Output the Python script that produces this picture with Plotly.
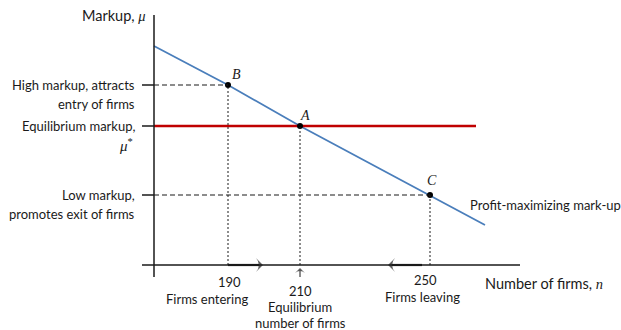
import plotly.graph_objects as go

# ---- data (schematic units) ----
curve_x = [0, 7.4, 14.6, 27.6, 33.1]
curve_y = [21.9, 18.0, 13.9, 7.0, 4.0]
eq_x = [0, 32.2]
eq_y = [13.9, 13.9]
point_names = ["B", "A", "C"]
point_x = [7.4, 14.6, 27.6]
point_y = [18.0, 13.9, 7.0]
n_labels = ["190", "210", "250"]
n_notes = ["Firms entering", "Equilibrium<br>number of firms", "Firms leaving"]
mu_labels = ["High markup, attracts<br>entry of firms",
             "Equilibrium markup,<br><i>μ</i><sup>*</sup>",
             "Low markup,<br>promotes exit of firms"]
# adjustment arrows along the n axis (start, end)
entry_arrow = [7.4, 10.9]
exit_arrow = [26.8, 23.4]
eq_arrow_y = [-1.2, -0.3]

# view window (whole canvas) and axis extents
VX0, VX1 = -15.4, 46.7
VY0, VY1 = -6.5, 26.5
X0, X1 = -1.2, 36.6
Y0, Y1 = -1.2, 25.0
INK = "#1a1a1a"
SANS = "Lato, 'Open Sans', sans-serif"
SERIF = "'Liberation Serif', 'DejaVu Serif', serif"
FS = 13

fig = go.Figure()
fig.add_trace(go.Scatter(x=curve_x, y=curve_y, mode="lines",
                         line=dict(color="#4a7ebb", width=1.8), hoverinfo="skip"))
fig.add_trace(go.Scatter(x=eq_x, y=eq_y, mode="lines",
                         line=dict(color="#c00000", width=2.5), hoverinfo="skip"))

shapes = []
shapes.append(dict(type="line", x0=0, x1=0, y0=Y0, y1=Y1, line=dict(color=INK, width=1.5)))
shapes.append(dict(type="line", x0=X0, x1=X1, y0=0, y1=0, line=dict(color=INK, width=1.5)))
for i, (px, py) in enumerate(zip(point_x, point_y)):
    shapes.append(dict(type="line", x0=px, x1=px, y0=0, y1=py,
                       line=dict(color=INK, width=1, dash="2px,2px")))
    shapes.append(dict(type="line", x0=X0, x1=0, y0=py, y1=py, line=dict(color=INK, width=1.5)))
    if point_names[i] != "A":
        shapes.append(dict(type="line", x0=0, x1=px, y0=py, y1=py,
                           line=dict(color=INK, width=1.2, dash="5px,3px")))

# arrows as line+marker traces
for ax_x, ax_y, w, sz in [(entry_arrow, [0, 0], 2.2, 10),
                          (exit_arrow, [0, 0], 2.2, 10),
                          ([point_x[1], point_x[1]], eq_arrow_y, 1.0, 7)]:
    fig.add_trace(go.Scatter(x=ax_x, y=ax_y, mode="lines+markers", hoverinfo="skip",
                             line=dict(color=INK, width=w),
                             marker=dict(symbol="arrow-wide", angleref="previous",
                                         size=[0, sz], color=INK, line=dict(width=0))))

fig.add_trace(go.Scatter(x=point_x, y=point_y, mode="markers",
                         marker=dict(color="black", size=6), hoverinfo="skip"))

ann = []
offs = [(0.8, 1.1), (0.5, 1.1), (0.2, 1.5)]
for name, px, py, (dx, dy) in zip(point_names, point_x, point_y, offs):
    ann.append(dict(x=px + dx, y=py + dy, text=f"<i>{name}</i>", showarrow=False,
                    xanchor="center", yanchor="middle",
                    font=dict(family=SERIF, size=14, color=INK)))
for lab, py in zip(mu_labels, point_y):
    first, second = lab.split("<br>")
    ann.append(dict(x=-1.7, y=py, text=first, showarrow=False, xanchor="right", yanchor="middle",
                    font=dict(family=SANS, size=FS, color=INK)))
    is_sym = "<i>" in second
    ann.append(dict(x=-1.9 if is_sym else -1.7, y=py - (1.85 if is_sym else 1.9), text=second,
                    showarrow=False, xanchor="right", yanchor="middle",
                    font=dict(family=SERIF if is_sym else SANS, size=15 if is_sym else FS, color=INK)))
n_lab_y = [-1.7, -2.55, -1.5]
n_lab_dx = [0.1, 0.0, -0.5]
note_dx = [-2.1, 0.0, -0.8]
for lab, note, px, ly, ldx, ndx in zip(n_labels, n_notes, point_x, n_lab_y, n_lab_dx, note_dx):
    ann.append(dict(x=px + ldx, y=ly, text=lab, showarrow=False, xanchor="center", yanchor="middle",
                    font=dict(family=SANS, size=FS, color=INK)))
    for k, ln in enumerate(note.split("<br>")):
        ann.append(dict(x=px + ndx, y=ly - 1.65 - 1.6 * k, text=ln, showarrow=False,
                        xanchor="center", yanchor="middle",
                        font=dict(family=SANS, size=FS, color=INK)))
ann.append(dict(x=-0.6, y=Y1, text="Markup, <span style='font-family:Liberation Serif'><i>μ</i></span>",
                showarrow=False, xanchor="right", yanchor="middle",
                font=dict(family=SANS, size=14.5, color=INK)))
ann.append(dict(x=32.9, y=-1.8, text="Number of firms, <span style='font-family:Liberation Serif'><i>n</i></span>",
                showarrow=False, xanchor="left", yanchor="middle",
                font=dict(family=SANS, size=14.5, color=INK)))
ann.append(dict(x=31.4, y=6.0, text="Profit-maximizing mark-up", showarrow=False,
                xanchor="left", yanchor="middle", font=dict(family=SANS, size=FS, color=INK)))

fig.update_layout(
    width=621, height=330,
    margin=dict(l=0, r=0, t=0, b=0),
    paper_bgcolor="white", plot_bgcolor="white",
    showlegend=False,
    xaxis=dict(range=[VX0, VX1], visible=False, fixedrange=True),
    yaxis=dict(range=[VY0, VY1], visible=False, fixedrange=True),
    shapes=shapes,
    annotations=ann,
)
fig.write_html("out.html", post_script="document.body.style.margin='0px';",
               config={"displayModeBar": False})
